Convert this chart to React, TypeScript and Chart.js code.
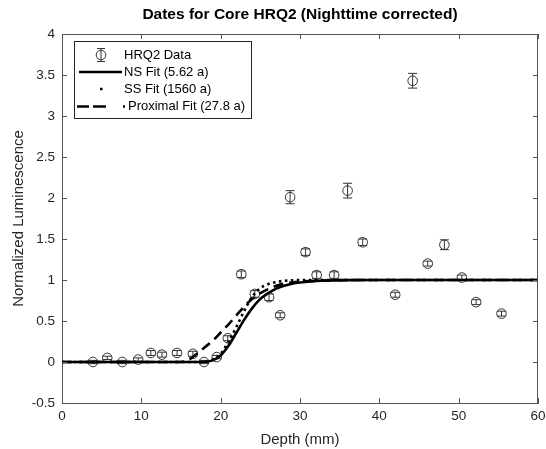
import { useEffect, useRef } from "react";
import { Chart, registerables } from "chart.js";

Chart.register(...registerables);

// ---- data ----
const depthMm = [3.9, 5.7, 7.6, 9.6, 11.2, 12.6, 14.5, 16.5, 17.9, 19.5, 20.9, 22.6, 24.3, 26.1, 27.5, 28.75, 30.7, 32.1, 34.3, 36.0, 37.9, 42.0, 44.2, 46.1, 48.2, 50.4, 52.2, 55.4];
const luminescence = [0.0, 0.05, 0.0, 0.03, 0.11, 0.09, 0.11, 0.1, 0.0, 0.06, 0.29, 1.07, 0.83, 0.79, 0.57, 2.01, 1.34, 1.06, 1.06, 2.09, 1.46, 0.82, 3.43, 1.2, 1.43, 1.03, 0.73, 0.59];
const luminescenceErr = [0.02, 0.02, 0.02, 0.02, 0.03, 0.03, 0.03, 0.03, 0.02, 0.02, 0.03, 0.04, 0.04, 0.04, 0.03, 0.08, 0.04, 0.04, 0.04, 0.09, 0.04, 0.03, 0.09, 0.03, 0.06, 0.03, 0.03, 0.03];

const fitDepthMm = [0, 15, 16, 17, 18, 19, 20, 21, 22, 23, 24, 25, 26, 27, 28, 29, 30, 32, 34, 36, 40, 60];
const nsFit = [0, 0, 0, 0, 0.003, 0.02, 0.08, 0.2, 0.36, 0.52, 0.66, 0.77, 0.84, 0.895, 0.93, 0.955, 0.97, 0.988, 0.995, 0.998, 1, 1];
const ssFit = [0, 0, 0, 0, 0, 0.03, 0.1, 0.25, 0.43, 0.63, 0.8, 0.9, 0.95, 0.975, 0.99, 0.995, 1, 1, 1, 1, 1, 1];
const proximalFit = [0, 0, 0.03, 0.1, 0.18, 0.26, 0.36, 0.46, 0.57, 0.68, 0.77, 0.84, 0.89, 0.93, 0.955, 0.97, 0.98, 0.99, 0.995, 1, 1, 1];

const seriesLabels = ["HRQ2 Data", "NS Fit (5.62 a)", "SS Fit (1560 a)", "Proximal Fit (27.8 a)"];
const chartTitle = "Dates for Core HRQ2 (Nighttime corrected)";
const xAxisTitle = "Depth (mm)";
const yAxisTitle = "Normalized Luminescence";

const FONT = "'Liberation Sans', Arial, Helvetica, sans-serif";
const AXIS_COLOR = "#555555";
const TEXT_COLOR = "#262626";

const matlabPlugin = {
  id: "matlabLook",
  afterDatasetDraw(chart: any, args: any) {
    if (args.index !== 0) return;
    const ctx = chart.ctx;
    const xs = chart.scales.x;
    const ys = chart.scales.y;
    ctx.save();
    ctx.strokeStyle = "#333333";
    ctx.lineWidth = 1;
    depthMm.forEach((d, i) => {
      const px = xs.getPixelForValue(d);
      const y1 = ys.getPixelForValue(luminescence[i] + luminescenceErr[i]);
      const y2 = ys.getPixelForValue(luminescence[i] - luminescenceErr[i]);
      ctx.beginPath();
      ctx.moveTo(px, y1);
      ctx.lineTo(px, y2);
      ctx.moveTo(px - 4.5, y1);
      ctx.lineTo(px + 4.5, y1);
      ctx.moveTo(px - 4.5, y2);
      ctx.lineTo(px + 4.5, y2);
      ctx.stroke();
    });
    ctx.restore();
  },
  afterDraw(chart: any) {
    const ctx = chart.ctx;
    const { left, right, top, bottom } = chart.chartArea;
    const xs = chart.scales.x;
    const ys = chart.scales.y;
    ctx.save();
    // box
    ctx.strokeStyle = AXIS_COLOR;
    ctx.lineWidth = 1;
    ctx.beginPath();
    ctx.moveTo(left, top + 0.5);
    ctx.lineTo(right, top + 0.5);
    ctx.moveTo(right - 0.5, top);
    ctx.lineTo(right - 0.5, bottom);
    ctx.stroke();
    // inner ticks
    const tl = 5;
    ctx.beginPath();
    xs.ticks.forEach((t: any) => {
      const px = Math.round(xs.getPixelForValue(t.value)) + 0.5;
      ctx.moveTo(px, bottom);
      ctx.lineTo(px, bottom - tl);
      ctx.moveTo(px, top);
      ctx.lineTo(px, top + tl);
    });
    ys.ticks.forEach((t: any) => {
      const py = Math.round(ys.getPixelForValue(t.value)) + 0.5;
      ctx.moveTo(left, py);
      ctx.lineTo(left + tl, py);
      ctx.moveTo(right, py);
      ctx.lineTo(right - tl, py);
    });
    ctx.stroke();

    // title
    ctx.fillStyle = "#000000";
    ctx.font = `bold 15.5px ${FONT}`;
    ctx.textAlign = "center";
    ctx.textBaseline = "middle";
    ctx.fillText(chartTitle, (left + right) / 2, 14.5);

    // legend
    const bx = 74, by = 41, bw = 177, bh = 77;
    ctx.fillStyle = "#ffffff";
    ctx.fillRect(bx, by, bw, bh);
    ctx.strokeStyle = "#262626";
    ctx.lineWidth = 1;
    ctx.strokeRect(bx + 0.5, by + 0.5, bw, bh);
    const rowY = [55, 72, 89, 106.5];
    const textX = 124;
    ctx.font = `13px ${FONT}`;
    ctx.textAlign = "left";
    ctx.fillStyle = "#000000";
    seriesLabels.forEach((lab, i) => ctx.fillText(lab, i === 3 ? 128 : textX, rowY[i]));
    // sample 0: errorbar marker
    ctx.strokeStyle = "#333333";
    ctx.lineWidth = 1;
    ctx.beginPath();
    ctx.arc(101, rowY[0], 4.8, 0, Math.PI * 2);
    ctx.moveTo(101, rowY[0] - 6.5);
    ctx.lineTo(101, rowY[0] + 6.5);
    ctx.moveTo(97, rowY[0] - 6.5);
    ctx.lineTo(105, rowY[0] - 6.5);
    ctx.moveTo(97, rowY[0] + 6.5);
    ctx.lineTo(105, rowY[0] + 6.5);
    ctx.stroke();
    // sample 1: solid
    ctx.strokeStyle = "#000000";
    ctx.lineWidth = 2.5;
    ctx.beginPath();
    ctx.moveTo(79, rowY[1]);
    ctx.lineTo(122, rowY[1]);
    ctx.stroke();
    // sample 2: dot
    ctx.fillStyle = "#000000";
    ctx.fillRect(100, rowY[2] - 1.25, 2.5, 2.5);
    // sample 3: dashed
    ctx.beginPath();
    ctx.moveTo(77, rowY[3]);
    ctx.lineTo(89, rowY[3]);
    ctx.moveTo(93, rowY[3]);
    ctx.lineTo(106, rowY[3]);
    ctx.stroke();
    ctx.fillRect(123, rowY[3] - 1.25, 2, 2.5);
    ctx.restore();
  },
};

const plainNumber = (v: any) => String(Number(v));

export default function App() {
  const canvasRef = useRef<HTMLCanvasElement | null>(null);

  useEffect(() => {
    document.body.style.margin = "0";
    const canvas = canvasRef.current;
    if (!canvas) return;
    const chart = new Chart(canvas, {
      type: "scatter",
      data: {
        datasets: [
          {
            label: seriesLabels[0],
            data: depthMm.map((x, i) => ({ x, y: luminescence[i] })),
            showLine: false,
            pointStyle: "circle",
            pointRadius: 4.8,
            borderColor: "#333333",
            backgroundColor: "rgba(0,0,0,0)",
            borderWidth: 1,
            order: 1,
          },
          {
            label: seriesLabels[1],
            data: fitDepthMm.map((x, i) => ({ x, y: nsFit[i] })),
            showLine: true,
            pointRadius: 0,
            borderColor: "#000000",
            borderWidth: 2.6,
            cubicInterpolationMode: "monotone",
            order: 0,
          },
          {
            label: seriesLabels[2],
            data: fitDepthMm.map((x, i) => ({ x, y: ssFit[i] })),
            showLine: true,
            pointRadius: 0,
            borderColor: "#000000",
            borderWidth: 2.6,
            borderDash: [2.5, 3.5],
            cubicInterpolationMode: "monotone",
            order: 0,
          },
          {
            label: seriesLabels[3],
            data: fitDepthMm.map((x, i) => ({ x, y: proximalFit[i] })),
            showLine: true,
            pointRadius: 0,
            borderColor: "#000000",
            borderWidth: 2.6,
            borderDash: [10, 6],
            cubicInterpolationMode: "monotone",
            order: 0,
          },
        ],
      },
      options: {
        animation: false,
        responsive: false,
        devicePixelRatio: 1,
        layout: { padding: { left: 0, right: 8, top: 34, bottom: 0 } },
        plugins: {
          legend: { display: false },
          tooltip: { enabled: false },
          title: { display: false },
        },
        scales: {
          x: {
            type: "linear",
            min: 0,
            max: 60,
            ticks: { stepSize: 10, color: TEXT_COLOR, font: { family: FONT, size: 13.5 }, padding: 5, maxRotation: 0, callback: plainNumber },
            grid: { display: false, drawTicks: false },
            border: { display: true, color: AXIS_COLOR, width: 1 },
            title: { display: true, text: xAxisTitle, color: TEXT_COLOR, font: { family: FONT, size: 15 }, padding: { top: 0, bottom: 0 } },
            afterFit: (s: any) => { s.height = 46; s.paddingLeft = 0; s.paddingRight = 0; },
          },
          y: {
            type: "linear",
            min: -0.5,
            max: 4,
            ticks: { stepSize: 0.5, color: TEXT_COLOR, font: { family: FONT, size: 13.5 }, padding: 7, callback: plainNumber },
            grid: { display: false, drawTicks: false },
            border: { display: true, color: AXIS_COLOR, width: 1 },
            title: { display: true, text: yAxisTitle, color: TEXT_COLOR, font: { family: FONT, size: 15 }, padding: { top: 9.5, bottom: 0 } },
            afterFit: (s: any) => { s.width = 62; s.paddingTop = 0; s.paddingBottom = 0; },
          },
        },
      },
      plugins: [matlabPlugin],
    } as any);
    return () => chart.destroy();
  }, []);

  return (
    <div style={{ position: "fixed", left: 0, top: 0, width: 546, height: 449, background: "#ffffff" }}>
      <canvas ref={canvasRef} width={546} height={449} style={{ display: "block", width: 546, height: 449 }} />
    </div>
  );
}
